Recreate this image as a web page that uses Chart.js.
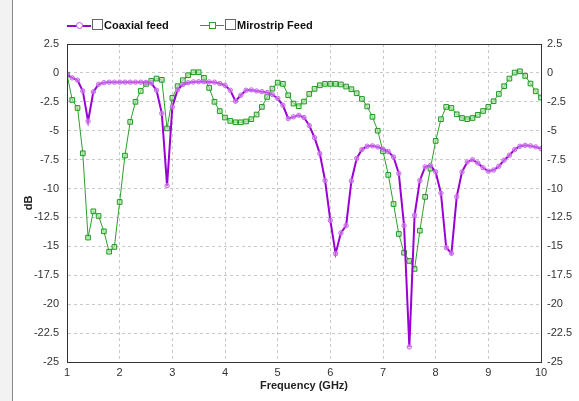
<!DOCTYPE html>
<html lang="en">
<head>
<meta charset="UTF-8">
<title>Coaxial vs Microstrip feed</title>
<script src="https://cdn.jsdelivr.net/npm/chart.js"></script>
<style>
  html, body { margin: 0; padding: 0; background: #fff; }
  body { width: 579px; height: 401px; position: relative; overflow: hidden; font-family: "Liberation Sans", Arial, sans-serif; }
  .strip { position: absolute; left: 0; top: 0; width: 12px; height: 401px; background: #f2f2f2; border-right: 1px solid #8a8a8a; }
  .wrap { position: absolute; left: 0; top: 0; width: 579px; height: 401px; }
  .legend { position: absolute; top: 19px; left: 67px; font-size: 11px; font-weight: bold; color: #111; }
  .item { position: absolute; top: 0; white-space: nowrap; height: 14px; }
  .ln { position: absolute; top: 6px; left: 0; width: 24px; }
  .mk { position: absolute; top: 3px; left: 9px; width: 5px; height: 5px; background: #fff; }
  .box { position: absolute; top: 0; left: 25px; width: 9px; height: 9px; border: 1px solid #666; background: #fff; }
  .txt { position: absolute; top: 0; left: 37px; line-height: 13px; }
</style>
</head>
<body>
<div class="strip"></div>
<div class="wrap"><canvas id="myChart" width="579" height="401"></canvas></div>
<div class="legend">
  <div class="item" style="left:0">
    <div class="ln" style="border-top:2px solid #9b00d3"></div>
    <div class="mk" style="border:1px solid #c050e8;border-radius:50%"></div>
    <div class="box"></div>
    <div class="txt">Coaxial feed</div>
  </div>
  <div class="item" style="left:133px">
    <div class="ln" style="border-top:1px solid #2ca02c"></div>
    <div class="mk" style="border:1px solid #2ca02c"></div>
    <div class="box"></div>
    <div class="txt">Mirostrip Feed</div>
  </div>
</div>
<script>
const freq = [1.0,1.1,1.2,1.3,1.4,1.5,1.6,1.7,1.8,1.9,
  2.0,2.1,2.2,2.3,2.4,2.5,2.6,2.7,2.8,2.9,
  3.0,3.1,3.2,3.3,3.4,3.5,3.6,3.7,3.8,3.9,
  4.0,4.1,4.2,4.3,4.4,4.5,4.6,4.7,4.8,4.9,
  5.0,5.1,5.2,5.3,5.4,5.5,5.6,5.7,5.8,5.9,
  6.0,6.1,6.2,6.3,6.4,6.5,6.6,6.7,6.8,6.9,
  7.0,7.1,7.2,7.3,7.4,7.5,7.6,7.7,7.8,7.9,
  8.0,8.1,8.2,8.3,8.4,8.5,8.6,8.7,8.8,8.9,
  9.0,9.1,9.2,9.3,9.4,9.5,9.6,9.7,9.8,9.9,10.0];

// S11 (dB), coaxial feed
const coaxial = [-0.15,-0.43,-0.63,-1.56,-4.18,-1.64,-0.98,-0.84,-0.8,-0.8,
  -0.8,-0.8,-0.8,-0.8,-0.8,-0.82,-0.88,-1.5,-3.5,-9.75,
  -2.94,-1.45,-1.0,-0.85,-0.78,-0.76,-0.76,-0.78,-0.8,-0.92,
  -1.07,-1.5,-2.45,-1.93,-1.5,-1.47,-1.56,-1.62,-1.7,-1.87,
  -2.2,-2.8,-3.95,-3.8,-3.66,-3.86,-4.55,-5.6,-6.98,-9.3,
  -12.75,-15.63,-13.84,-13.2,-9.34,-7.4,-6.63,-6.34,-6.31,-6.4,
  -6.6,-6.8,-7.27,-8.7,-13.2,-23.7,-12.3,-9.3,-8.13,-8.0,
  -8.56,-10.4,-15.1,-15.6,-10.7,-8.56,-7.7,-7.5,-7.8,-8.2,
  -8.5,-8.4,-8.07,-7.55,-7.12,-6.63,-6.34,-6.26,-6.31,-6.4,-6.55];

// S11 (dB), microstrip feed
const microstrip = [-0.15,-2.34,-3.03,-6.95,-14.24,-11.97,-12.37,-13.7,-15.46,-15.05,
  -11.16,-7.15,-4.24,-2.5,-1.56,-0.95,-0.69,-0.49,-0.6,-4.8,
  -2.16,-1.15,-0.63,-0.2,0.06,0.06,-0.43,-1.3,-2.5,-3.3,
  -3.86,-4.15,-4.27,-4.27,-4.2,-4.0,-3.6,-2.94,-2.08,-1.36,
  -0.84,-0.95,-1.93,-2.65,-2.88,-2.48,-1.82,-1.38,-1.07,-0.95,
  -0.95,-0.95,-1.0,-1.18,-1.41,-1.76,-2.25,-2.9,-3.8,-5.0,
  -6.78,-8.82,-11.34,-13.93,-15.55,-16.26,-16.95,-13.64,-10.72,-8.28,
  -5.88,-4.0,-2.94,-3.03,-3.58,-3.9,-4.0,-3.9,-3.63,-3.29,
  -2.94,-2.45,-1.82,-1.15,-0.49,0.03,0.14,-0.26,-0.92,-1.59,-2.13];

const xTicks = [1,2,3,4,5,6,7,8,9,10];
const yTicks = [2.5,0,-2.5,-5,-7.5,-10,-12.5,-15,-17.5,-20,-22.5,-25];

const tickFont = { family: '"Liberation Sans", Arial, sans-serif', size: 11 };
const boldFont = { family: '"Liberation Sans", Arial, sans-serif', size: 11, weight: 'bold' };

const frame = {
  id: 'frame',
  afterDraw(chart) {
    const a = chart.chartArea, c = chart.ctx;
    c.save();
    c.strokeStyle = '#333';
    c.lineWidth = 1;
    c.strokeRect(Math.round(a.left) + 0.5, Math.round(a.top) + 0.5,
      Math.round(a.right - a.left), Math.round(a.bottom - a.top));
    c.restore();
  }
};

new Chart(document.getElementById('myChart'), {
  type: 'line',
  data: {
    datasets: [{
      label: 'Coaxial feed',
      data: freq.map((f, i) => ({ x: f, y: coaxial[i] })),
      borderColor: '#9b00d3',
      borderWidth: 2,
      pointStyle: 'circle',
      pointRadius: 2.2,
      pointBorderWidth: 1,
      pointBorderColor: '#c868ec',
      pointBackgroundColor: 'rgba(225,170,245,0.5)',
      tension: 0
    }, {
      label: 'Mirostrip Feed',
      data: freq.map((f, i) => ({ x: f, y: microstrip[i] })),
      borderColor: '#2ca02c',
      borderWidth: 1,
      pointStyle: 'rect',
      pointRadius: 3.3,
      pointBorderWidth: 1,
      pointBorderColor: '#1f9a1f',
      pointBackgroundColor: 'rgba(180,225,180,0.7)',
      tension: 0
    }]
  },
  options: {
    responsive: false,
    animation: false,
    layout: { padding: { top: 44, left: 12, right: 0, bottom: 0 } },
    plugins: { legend: { display: false }, tooltip: { enabled: false } },
    scales: {
      x: {
        type: 'linear', min: 1, max: 10,
        afterBuildTicks: s => { s.ticks = xTicks.map(v => ({ value: v })); },
        afterFit: s => { s.height = 39; },
        ticks: { font: tickFont, color: '#333', padding: 4, maxRotation: 0 },
        grid: { color: '#c8c8c8', drawTicks: false },
        border: { color: '#333', dash: [3, 3] },
        title: { display: true, text: 'Frequency (GHz)', color: '#222', padding: { top: 0, bottom: 8 }, font: boldFont }
      },
      y: {
        position: 'left', min: -25, max: 2.5,
        afterBuildTicks: s => { s.ticks = yTicks.map(v => ({ value: v })); },
        afterFit: s => { s.width = 55; },
        ticks: { font: tickFont, color: '#333', padding: 8 },
        grid: { color: '#c8c8c8', drawTicks: false },
        border: { color: '#333', dash: [3, 3] },
        title: { display: true, text: 'dB', color: '#222', padding: { top: 10, bottom: 0 }, font: boldFont }
      },
      y2: {
        position: 'right', min: -25, max: 2.5,
        afterBuildTicks: s => { s.ticks = yTicks.map(v => ({ value: v })); },
        afterFit: s => { s.width = 38; },
        ticks: { font: tickFont, color: '#333', padding: 6 },
        grid: { display: false, drawTicks: false },
        border: { color: '#333' }
      }
    }
  },
  plugins: [frame]
});
</script>
</body>
</html>
